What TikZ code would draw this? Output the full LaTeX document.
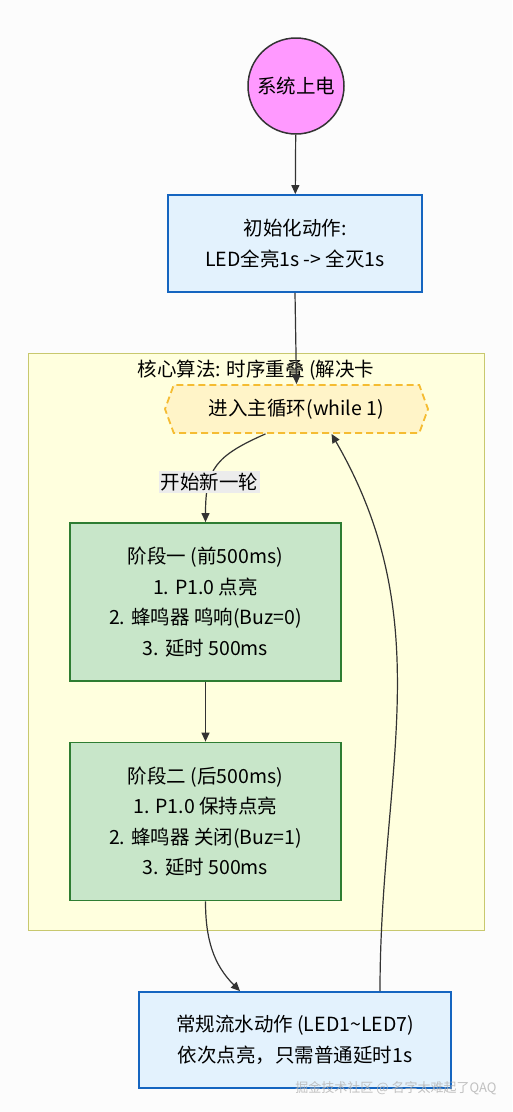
\documentclass[tikz,border=0pt]{standalone}
\usepackage{fontspec}
\setmainfont{Noto Sans CJK SC}
\usepackage{tikz}
\usetikzlibrary{shapes.geometric, shapes.symbols, arrows.meta, positioning}
\definecolor{pagebg}{RGB}{252,252,252}
\definecolor{startpink}{RGB}{255,153,255}
\definecolor{inkgray}{RGB}{51,51,51}
\definecolor{boxblue}{RGB}{227,242,253}
\definecolor{lineblue}{RGB}{21,101,192}
\definecolor{stagegreen}{RGB}{200,230,201}
\definecolor{linegreen}{RGB}{46,125,50}
\definecolor{groupyellow}{RGB}{255,255,222}
\definecolor{groupline}{RGB}{200,200,110}
\definecolor{loopyellow}{RGB}{255,244,200}
\definecolor{loopline}{RGB}{245,188,50}

\begin{document}
\begin{tikzpicture}[x=1pt, y=-1pt,
    font=\fontsize{19.5}{30.5}\selectfont,
    startnode/.style={circle, draw=inkgray, line width=1.5pt, fill=startpink,
                      minimum size=96pt, inner sep=0pt},
    action/.style={rectangle, draw=lineblue, line width=1.8pt, fill=boxblue,
                   align=center, inner sep=0pt},
    stagebox/.style={rectangle, draw=linegreen, line width=1.8pt, fill=stagegreen,
                     align=center, inner sep=0pt, minimum width=271pt,
                     minimum height=158pt},
    group/.style={rectangle, draw=groupline, line width=1pt, fill=groupyellow,
                  minimum width=456pt, minimum height=577pt},
    loophex/.style={signal, signal to=west and east, signal pointer angle=140,
                    draw=loopline, dashed, dash pattern=on 7pt off 4pt,
                    line width=1.8pt, fill=loopyellow, minimum width=263pt,
                    minimum height=48pt, inner sep=0pt},
    flow/.style={draw=inkgray, line width=1.2pt,
                 -{Triangle[length=9pt, width=8pt]}},
    edgetag/.style={fill=gray!15, inner sep=2pt},
]
% page
\fill[pagebg] (0,0) rectangle (512,1112);
\useasboundingbox (0,0) rectangle (512,1112);

% core algorithm group
\node[group] (core) at (256,641.5) {};
\node[below=4pt of core.north] (coretitle) {核心算法: 时序重叠 (解决卡};

% nodes
\node[startnode] (power) at (296,86) {系统上电};
\node[action, minimum width=254pt, minimum height=97pt] (init) at (295,243.5)
  {初始化动作:\\LED全亮1s -> 全灭1s};
\node[loophex] (mainloop) at (296.5,409) {进入主循环(while 1)};
\node[stagebox] (stageone) at (205.5,602)
  {阶段一 (前500ms)\\1. P1.0 点亮\\2. 蜂鸣器 鸣响(Buz=0)\\3. 延时 500ms};
\node[stagebox] (stagetwo) at (205.5,821.5)
  {阶段二 (后500ms)\\1. P1.0 保持点亮\\2. 蜂鸣器 关闭(Buz=1)\\3. 延时 500ms};
\node[action, minimum width=312pt, minimum height=96pt] (normal) at (295,1040)
  {常规流水动作 (LED1\textasciitilde LED7)\\依次点亮，只需普通延时1s};

% connectors
\draw[flow] (power) -- (init);
\draw[flow] (init.south) -- (mainloop.north);
\draw[flow] ([xshift=-31pt]mainloop.south) .. controls +(-50,22) and +(0,-53) ..
  node[edgetag, pos=0.68] {开始新一轮} (stageone.north);
\draw[flow] (stageone) -- (stagetwo);
\draw[flow] (stagetwo.south) to[out=-90, in=135] ([xshift=-55pt]normal.north);
\draw[flow] ([xshift=85pt]normal.north) to[out=90, in=-60]
  ([xshift=35pt]mainloop.south);

% watermark
\node[text=gray!60, opacity=0.8, font=\fontsize{13}{15}\selectfont]
  (mark) at (396,1088) {掘金技术社区 @ 名字太难起了QAQ};
\end{tikzpicture}
\end{document}
